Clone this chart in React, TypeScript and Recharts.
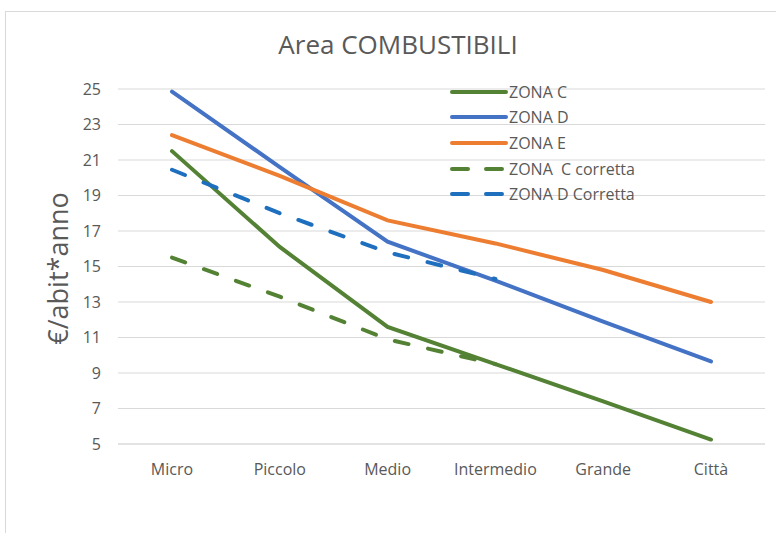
import React from 'react';
import {
  LineChart,
  Line,
  XAxis,
  YAxis,
  CartesianGrid,
  Legend
} from 'recharts';

const categories = ['Micro', 'Piccolo', 'Medio', 'Intermedio', 'Grande', 'Città'];
const zonaC = [21.5, 16.1, 11.6, 9.5, 7.4, 5.25];
const zonaD = [24.85, 20.6, 16.4, 14.2, 11.9, 9.65];
const zonaE = [22.4, 20.1, 17.6, 16.3, 14.8, 13.0];
const zonaCCorretta = [15.5, 13.3, 10.9, 9.5, null, null];
const zonaDCorretta = [20.45, 18.0, 15.8, 14.3, null, null];
const yTicks = [5, 7, 9, 11, 13, 15, 17, 19, 21, 23, 25];

const data = categories.map((name, i) => ({
  name,
  c: zonaC[i],
  d: zonaD[i],
  e: zonaE[i],
  cc: zonaCCorretta[i],
  dc: zonaDCorretta[i]
}));

const FONT = '"Open Sans", "Noto Sans", sans-serif';
const GREY = '#595959';
const DASH = '14 20';

const series = [
  { key: 'c', name: 'ZONA C', color: '#548235', dash: undefined },
  { key: 'd', name: 'ZONA D', color: '#4472C4', dash: undefined },
  { key: 'e', name: 'ZONA E', color: '#ED7D31', dash: undefined },
  { key: 'cc', name: 'ZONA  C corretta', color: '#548235', dash: DASH },
  { key: 'dc', name: 'ZONA D Corretta', color: '#1F6FBF', dash: DASH }
];

function LegendBox() {
  return (
    <div style={{ fontFamily: FONT, fontSize: 16, color: GREY }}>
      {series.map((s) => (
        <div key={s.key} style={{ display: 'flex', alignItems: 'center', height: 25.6 }}>
          <svg width={59} height={8} style={{ display: 'block' }}>
            <line
              x1={2}
              y1={4}
              x2={56}
              y2={4}
              stroke={s.color}
              strokeWidth={4}
              strokeLinecap="round"
              strokeDasharray={s.dash ? '16 18' : undefined}
            />
          </svg>
          <span style={{ whiteSpace: 'pre' }}>{s.name}</span>
        </div>
      ))}
    </div>
  );
}

export default function App() {
  return (
    <div style={{ position: 'fixed', left: 0, top: 0, width: 776, height: 533, overflow: 'hidden', background: '#fff' }}>
      <div
        style={{
          position: 'absolute',
          left: 5,
          top: 11,
          width: 900,
          height: 700,
          borderTop: '1px solid #d9d9d9',
          borderLeft: '1px solid #d9d9d9'
        }}
      />
      <div
        style={{
          position: 'absolute',
          left: 0,
          top: 26,
          width: 796,
          textAlign: 'center',
          fontFamily: FONT,
          fontSize: 26,
          color: GREY,
          lineHeight: 'normal'
        }}
      >
        Area COMBUSTIBILI
      </div>
      <div style={{ position: 'absolute', left: 0, top: 0 }}>
        <LineChart
          width={776}
          height={533}
          data={data}
          margin={{ top: 89, right: 11, left: 0, bottom: 59 }}
        >
          <CartesianGrid vertical={false} stroke="#d9d9d9" strokeWidth={1} />
          <XAxis
            dataKey="name"
            height={30}
            padding={{ left: 54, right: 54 }}
            axisLine={{ stroke: '#d9d9d9' }}
            tickLine={false}
            tickMargin={14}
            interval={0}
            tick={{ fill: GREY, fontSize: 16, fontFamily: FONT }}
          />
          <YAxis
            width={118}
            domain={[5, 25]}
            ticks={yTicks}
            interval={0}
            axisLine={false}
            tickLine={false}
            tickMargin={11}
            tick={{ fill: GREY, fontSize: 16, fontFamily: FONT }}
            label={{
              value: '€/abit*anno',
              angle: -90,
              position: 'center',
              dx: -1,
              dy: 2,
              style: { fill: GREY, fontSize: 27, fontFamily: FONT }
            }}
          />
          <Legend
            layout="vertical"
            verticalAlign="middle"
            align="center"
            content={() => <LegendBox />}
            wrapperStyle={{ left: 450, top: 79, width: 240 }}
          />
          {series.map((s) => (
            <Line
              key={s.key}
              type="linear"
              dataKey={s.key}
              name={s.name}
              stroke={s.color}
              strokeWidth={4}
              strokeDasharray={s.dash}
              strokeLinecap="round"
              dot={false}
              activeDot={false}
              isAnimationActive={false}
            />
          ))}
        </LineChart>
      </div>
    </div>
  );
}
